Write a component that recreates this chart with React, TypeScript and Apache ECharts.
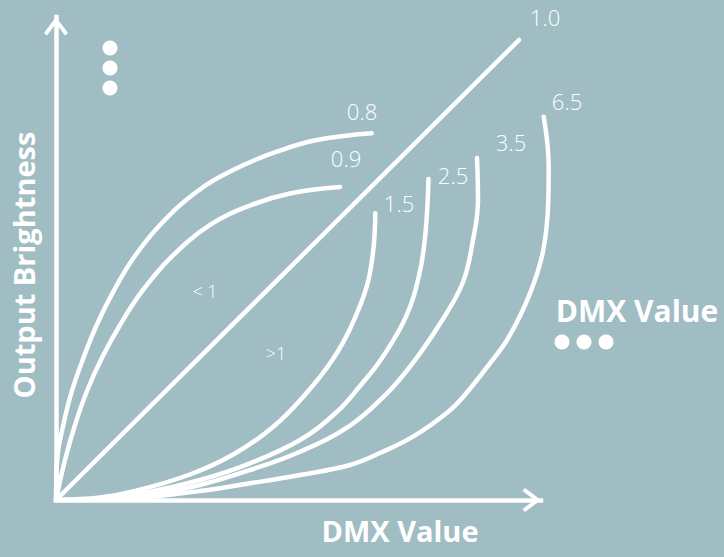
import React, { useEffect, useRef } from 'react';
import * as echarts from 'echarts';

// gamma curves, DMX value (0-255) against output brightness (%)
const gammaNames = ['0.8', '0.9', '1.0', '1.5', '2.5', '3.5', '6.5'];

const curve08 = [
  [0, 0], [0.68, 8.63], [3.84, 15.53], [8.25, 22.42], [14.35, 29.34], [21.4, 36.23],
  [30.13, 43.13], [40.64, 50.04], [54.68, 56.94], [73.98, 63.83], [95.01, 68.68],
  [116.04, 72.11], [137.07, 74.53], [165.99, 75.92],
];
const curve09 = [
  [0, 0], [4.73, 8.28], [9.99, 15.53], [16.14, 22.42], [24.03, 29.34], [33.65, 36.23],
  [45.06, 43.13], [59.94, 50.04], [80.97, 56.94], [102.0, 60.97], [123.03, 63.46], [149.32, 64.8],
];
const curve10 = [[0, 0], [243.43, 95.24]];
const curve15 = [
  [0, 0], [23.13, 0.52], [40.48, 1.76], [70.45, 5.28], [93.59, 9.52], [114.09, 15.11],
  [131.71, 22.15], [145.64, 29.19], [155.1, 35.88], [163.36, 44.16], [166.83, 51.76], [167.88, 59.36],
];
const curve25 = [
  [0, 0], [23.13, 0.31], [49.42, 1.72], [75.71, 4.14], [102.0, 7.6], [128.29, 12.42],
  [147.59, 18.22], [159.83, 23.6], [171.4, 29.4], [184.02, 37.95], [191.12, 46.94],
  [194.27, 55.28], [195.85, 66.46],
];
const curve35 = [
  [0, 0], [23.13, 0.21], [49.42, 1.04], [75.71, 3.11], [102.0, 6.21], [128.29, 10.0],
  [154.58, 15.42], [174.03, 22.09], [186.12, 27.6], [200.84, 35.88], [213.73, 44.87],
  [219.25, 53.83], [221.88, 62.11], [221.36, 70.81],
];
const curve65 = [
  [0, 0], [23.13, 0.14], [49.42, 0.68], [75.71, 1.86], [102.0, 3.46], [128.29, 5.18],
  [154.58, 7.25], [170.35, 9.73], [187.7, 13.11], [205.42, 18.01], [214.15, 21.39],
  [228.18, 28.3], [238.17, 33.81], [249.22, 42.79], [256.21, 51.76], [258.84, 62.11],
  [259.05, 69.01], [256.42, 79.36],
];
const curves = [curve08, curve09, curve10, curve15, curve25, curve35, curve65];

// curve tags, plus the two region notes
const tagTexts = ['0.8', '0.9', '1.0', '1.5', '2.5', '3.5', '6.5', '< 1', '>1'];
const tagSpots = [
  [362, 111], [346, 158], [545, 17], [399, 203], [453, 175], [511, 142], [567, 101],
  [205, 291], [276, 353],
];

const axisNameX = 'DMX Value';
const axisNameY = 'Output Brightness';

const X_MAX = 255;
const Y_MAX = 100;

const WHITE = '#ffffff';
const BG = '#9fbdc3';
const FONT = '"Open Sans", "DejaVu Sans", sans-serif';

// plot box of the drawn axes
const LEFT = 56;
const RIGHT = 183;
const TOP = 17;
const BOTTOM = 57;
// the curves get a wider box on the same scale, so the 6.5 curve may run past the arrow
const CURVE_RIGHT = 124;
const CURVE_X_MAX = X_MAX * (724 - LEFT - CURVE_RIGHT) / (724 - LEFT - RIGHT);

// open chevron, tip pointing up
const chevron = 'path://M12,0 L24,16 L21,18.5 L12,6.5 L3,18.5 L0,16 Z';

const App: React.FC = () => {
  const ref = useRef<HTMLDivElement | null>(null);

  useEffect(() => {
    if (!ref.current) return;
    const chart = echarts.init(ref.current, null, { renderer: 'svg' });

    const axisLine = {
      show: true,
      symbol: ['none', chevron],
      symbolSize: [24, 18.5],
      symbolOffset: [0, -9.25],
      lineStyle: { color: WHITE, width: 4.5, cap: 'square' },
    };
    const bare = { axisTick: { show: false }, axisLabel: { show: false }, splitLine: { show: false } };

    const dot = (cx: number, cy: number) => ({
      type: 'circle', shape: { cx, cy, r: 7.5 }, style: { fill: WHITE }, silent: true,
    });

    chart.setOption({
      animation: false,
      backgroundColor: BG,
      grid: [
        { left: LEFT, right: RIGHT, top: TOP, bottom: BOTTOM },
        { left: LEFT, right: CURVE_RIGHT, top: TOP, bottom: BOTTOM },
      ],
      xAxis: [
        { type: 'value', gridIndex: 0, min: 0, max: X_MAX, axisLine, ...bare },
        { type: 'value', gridIndex: 1, min: 0, max: CURVE_X_MAX, show: false },
      ],
      yAxis: [
        { type: 'value', gridIndex: 0, min: 0, max: Y_MAX, axisLine, ...bare },
        { type: 'value', gridIndex: 1, min: 0, max: Y_MAX, show: false },
      ],
      series: curves.map((c, i) => ({
        type: 'line',
        name: gammaNames[i],
        xAxisIndex: 1,
        yAxisIndex: 1,
        data: c,
        showSymbol: false,
        smooth: 0.4,
        silent: true,
        lineStyle: { color: WHITE, width: 4.5, cap: 'round' },
      })),
      graphic: [
        ...tagTexts.map((t, i) => ({
          type: 'text',
          x: tagSpots[i][0],
          y: tagSpots[i][1],
          silent: true,
          style: {
            text: t,
            fill: WHITE,
            fontFamily: FONT,
            fontWeight: 300,
            fontSize: i < 7 ? 22 : 18,
            align: 'center',
            verticalAlign: 'middle',
          },
        })),
        {
          type: 'text', x: 23, y: 265, rotation: Math.PI / 2, silent: true,
          style: {
            text: axisNameY, fill: WHITE, fontFamily: FONT, fontWeight: 'bold', fontSize: 29,
            align: 'center', verticalAlign: 'middle',
          },
        },
        {
          type: 'text', x: 400, y: 530, silent: true,
          style: {
            text: axisNameX, fill: WHITE, fontFamily: FONT, fontWeight: 'bold', fontSize: 29,
            align: 'center', verticalAlign: 'middle',
          },
        },
        {
          type: 'text', x: 637, y: 310, silent: true,
          style: {
            text: axisNameX, fill: WHITE, fontFamily: FONT, fontWeight: 'bold', fontSize: 30,
            align: 'center', verticalAlign: 'middle',
          },
        },
        dot(110, 48), dot(110, 68), dot(110, 88),
        dot(562, 342), dot(584, 342), dot(606, 342),
      ],
    });

    return () => {
      chart.dispose();
    };
  }, []);

  return (
    <div
      ref={ref}
      style={{ position: 'absolute', left: 0, top: 0, width: 724, height: 557 }}
    />
  );
};

export default App;
